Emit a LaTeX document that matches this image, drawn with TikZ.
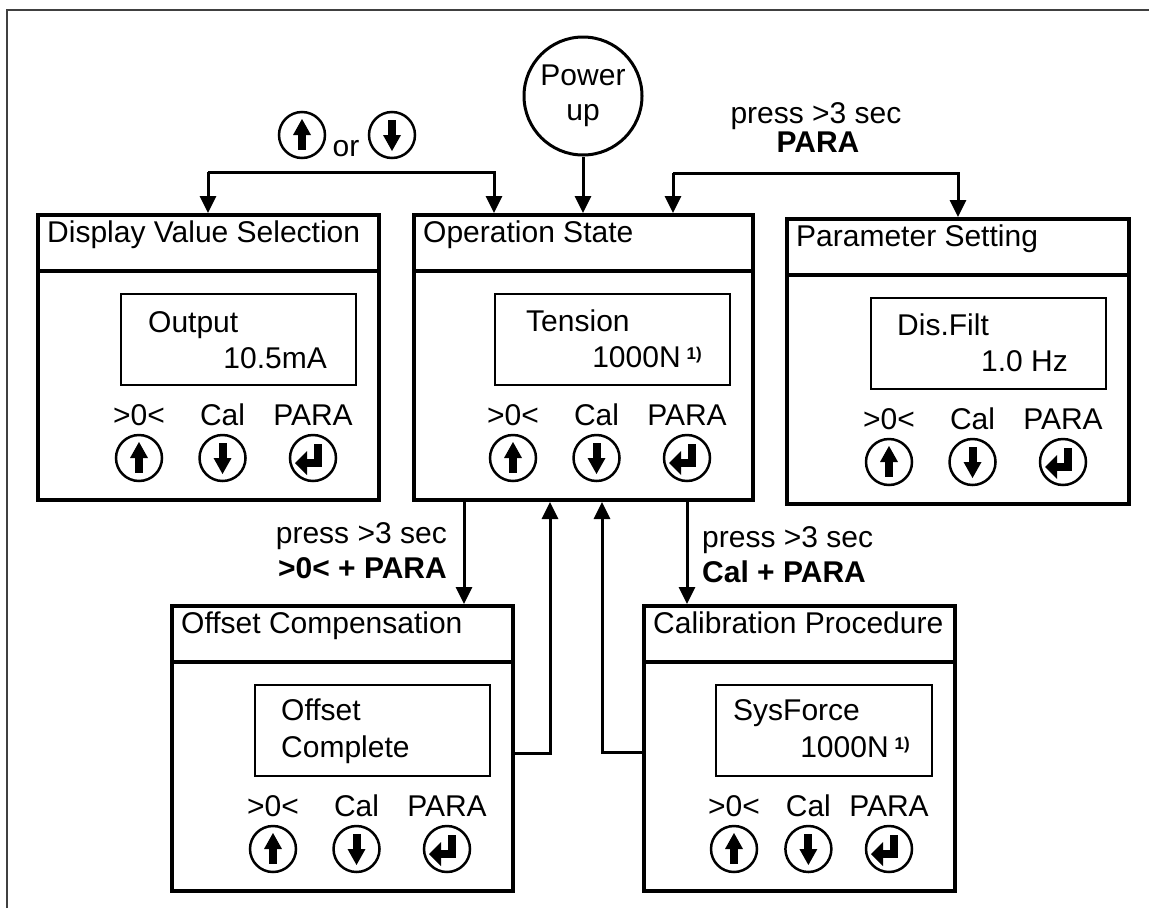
\documentclass[tikz,border=0pt]{standalone}
\usepackage{fontspec}
\setmainfont{Liberation Sans}
\usetikzlibrary{arrows.meta,calc}

\tikzset{
  panel/.style={draw, line width=4pt, rectangle, minimum height=285pt, inner sep=0pt},
  lcd/.style={draw, line width=2pt, rectangle, minimum height=91pt, inner sep=0pt},
  keyring/.style={draw, circle, line width=2.5pt, minimum size=46pt, inner sep=0pt},
  conn/.style={line width=3pt, -{Triangle[length=17pt,width=16pt]}},
  txt/.style={font=\fontsize{30}{35}\selectfont, inner sep=0pt},
  boldtxt/.style={font=\fontsize{30}{35}\selectfont\bfseries, inner sep=0pt},
  upglyph/.pic={\fill (-4,-2) rectangle (4,15); \fill (-9,0) -- (9,0) -- (0,-16) -- cycle;},
  downglyph/.pic={\fill (-4,2) rectangle (4,-15); \fill (-9,0) -- (9,0) -- (0,16) -- cycle;},
  enterglyph/.pic={\fill (1,-14) rectangle (9,9); \fill (-6,1) rectangle (9,9);
    \fill (-6,-7) -- (-6,17) -- (-18,5) -- cycle;}
}

% footnote mark behind the force values
\newcommand{\fnmark}{\hspace{6pt}\raisebox{8pt}{\fontsize{17}{17}\selectfont\bfseries 1)}}

% one state: name, left, top, width, title, display width
\newcommand{\statebox}[6]{%
  \node[panel, minimum width=#4pt, anchor=north west] (#1) at (#2,#3) {};
  \draw[line width=4pt] ([yshift=-58pt]#1.north west) -- ([yshift=-58pt]#1.north east);
  \node[txt, anchor=base west] (#1-title) at ([xshift=11pt,yshift=-29pt]#1.north west) {#5};
  \node[lcd, minimum width=#6pt, anchor=north east] (#1-lcd) at ([xshift=-24pt,yshift=-80pt]#1.north east) {};
  \node[keyring] (#1-k1) at ($(#1-lcd.west |- #1.north)+(19,245)$) {};
  \node[keyring] (#1-k3) at ($(#1-lcd.east |- #1.north)+(-44,245)$) {};
  \node[keyring] (#1-k2) at ($(#1-k1)!0.48!(#1-k3)$) {};
  \pic at (#1-k1) {upglyph};
  \pic at (#1-k2) {downglyph};
  \pic at (#1-k3) {enterglyph};
  \foreach \k/\t in {1/{>0<},2/Cal,3/PARA}{
    \node[txt, anchor=base] (#1-t\k) at ($(#1-k\k)+(0,-33)$) {\t};
  }
}

\begin{document}
\begin{tikzpicture}[x=1pt, y=-1pt]
\useasboundingbox (0,0) rectangle (1149,908);

% frame
\draw[line width=2pt, black!75] (7,908) -- (7,10) -- (1149,10);

% states
\statebox{dvs}{36}{213}{341}{Display Value Selection}{235}
\statebox{ops}{412}{213}{339}{Operation State}{235}
\statebox{pst}{785}{217}{342}{Parameter Setting}{235}
\statebox{ofc}{170}{604}{341}{Offset Compensation}{235}
\statebox{cal}{642}{604}{311}{Calibration Procedure}{216}

% display texts
\node[txt, anchor=base west] (dvs-l1) at ($(dvs-lcd.north west)+(28,39)$) {Output};
\node[txt, anchor=base east] (dvs-l2) at ($(dvs-lcd.north east)+(-30,75)$) {10.5mA};
\node[txt, anchor=base west] (ops-l1) at ($(ops-lcd.north west)+(32,38)$) {Tension};
\node[txt, anchor=base east] (ops-l2) at ($(ops-lcd.north east)+(-29,74)$) {1000N\fnmark};
\node[txt, anchor=base west] (pst-l1) at ($(pst-lcd.north west)+(27,38)$) {Dis.Filt};
\node[txt, anchor=base east] (pst-l2) at ($(pst-lcd.north east)+(-39,74)$) {1.0 Hz};
\node[txt, anchor=base west] (ofc-l1) at ($(ofc-lcd.north west)+(27,36)$) {Offset};
\node[txt, anchor=base west] (ofc-l2) at ($(ofc-lcd.north west)+(27,73)$) {Complete};
\node[txt, anchor=base west] (cal-l1) at ($(cal-lcd.north west)+(18,36)$) {SysForce};
\node[txt, anchor=base east] (cal-l2) at ($(cal-lcd.north east)+(-23,73)$) {1000N\fnmark};

% power up
\node[draw, circle, line width=3pt, minimum size=118pt, inner sep=0pt, txt, align=center] (pwr) at (583,96) {Power\\up};
\draw[conn] (pwr) -- (pwr |- ops.north);

% up or down
\node[keyring] (orUp) at (302,135) {};
\pic at (orUp) {upglyph};
\node[txt, anchor=base] (orTxt) at (346,156) {or};
\node[keyring] (orDn) at (392,135) {};
\pic at (orDn) {downglyph};
\coordinate (orL) at (208,172);
\coordinate (orR) at (494,172);
\draw[conn] (orL) -- (orR) -- (orR |- ops.north);
\draw[conn] (orL) -- (orL |- dvs.north);

% parameter
\node[txt, anchor=base] (paTxt1) at (816,123) {press >3 sec};
\node[boldtxt, anchor=base] (paTxt2) at (818,152) {PARA};
\coordinate (paL) at (673,173);
\coordinate (paR) at (958,173);
\draw[conn] (paL) -- (paR) -- (paR |- pst.north);
\draw[conn] (paL) -- (paL |- ops.north);

% offset
\coordinate (xOfc) at (464,550);
\draw[conn] (xOfc |- ops.south) -- (xOfc |- ofc.north);
\node[txt, anchor=base east] (ofcTxt1) at (447,543) {press >3 sec};
\node[boldtxt, anchor=base east] (ofcTxt2) at (447,578) {>0< + PARA};
\coordinate (ofcBack) at (550,753);
\draw[conn] (ofcBack -| ofc.east) -- (ofcBack) -- (ofcBack |- ops.south);

% calibration
\coordinate (xCal) at (687,550);
\draw[conn] (xCal |- ops.south) -- (xCal |- cal.north);
\node[txt, anchor=base west] (calTxt1) at (702,547) {press >3 sec};
\node[boldtxt, anchor=base west] (calTxt2) at (702,582) {Cal + PARA};
\coordinate (calBack) at (602,752);
\draw[conn] (calBack -| cal.west) -- (calBack) -- (calBack |- ops.south);
\end{tikzpicture}
\end{document}
